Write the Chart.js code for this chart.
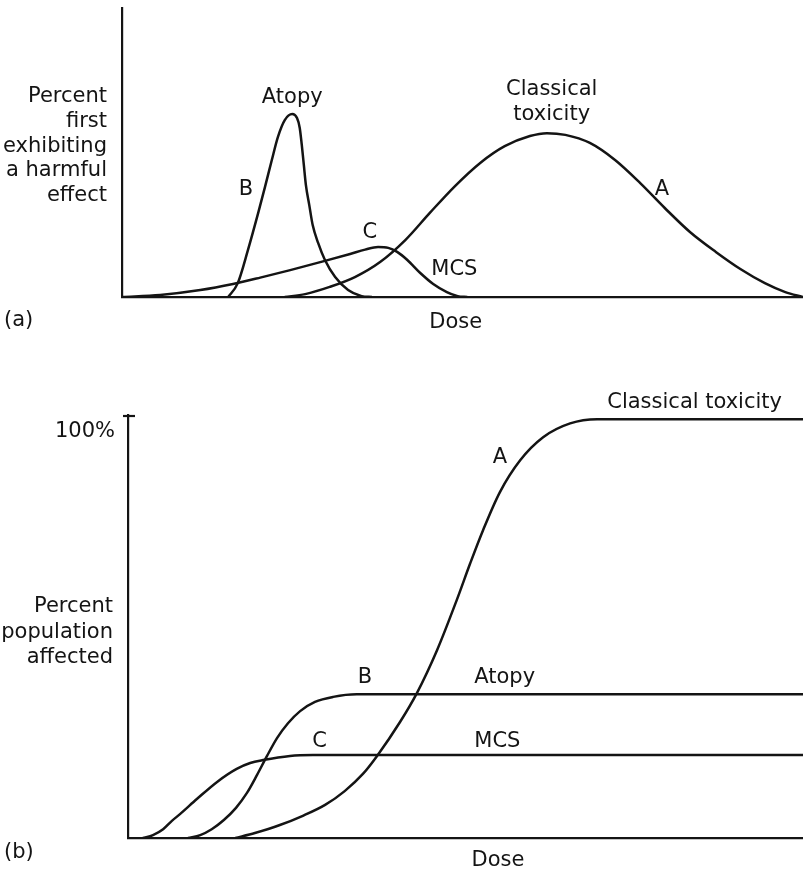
<!DOCTYPE html>
<html>
<head>
<meta charset="utf-8">
<script src="https://cdn.jsdelivr.net/npm/chart.js@4.4.1/dist/chart.umd.min.js"></script>
<style>
  html, body { margin: 0; padding: 0; background: #fff; }
  canvas { position: absolute; left: 0; }
  #firstEffect { top: 0; }
  #affected { top: 340px; }
</style>
</head>
<body>
<canvas id="firstEffect" width="803" height="340"></canvas>
<canvas id="affected" width="803" height="532"></canvas>
<script>
// (a) percent first exhibiting a harmful effect, by dose
const classicalDose  = [23.9, 26.9, 30.5, 34.2, 37.9, 41.6, 45.2, 48.9, 52.6, 56.2, 59.9, 62.4, 65.1, 68.7, 72.4, 76.1, 79.7, 83.4, 87.2, 90.8, 94.4, 97.4, 100];
const classicalFirst = [0, 1.0, 3.5, 6.9, 12.1, 19.7, 29.1, 38.4, 46.4, 52.2, 55.7, 56.7, 56.1, 53.3, 47.4, 39.4, 30.8, 22.5, 15.6, 9.7, 4.8, 1.7, 0];
const atopyDose  = [15.6, 17.0, 18.5, 20.0, 21.0, 22.0, 22.9, 23.9, 25.0, 25.7, 26.1, 26.4, 26.7, 27.0, 27.5, 28.0, 28.8, 29.8, 31.3, 33.2, 35.2, 36.7];
const atopyFirst = [0, 4.8, 16.3, 29.1, 38.1, 47.4, 55.4, 61.2, 63.3, 61.9, 58.5, 52.6, 45.7, 38.8, 31.8, 24.9, 18.7, 12.8, 6.9, 2.4, 0.3, 0];
const mcsDose  = [0, 5.6, 11.5, 16.3, 20.3, 24.7, 29.8, 33.5, 35.7, 37.6, 39.1, 40.4, 41.9, 43.8, 45.7, 47.7, 49.3, 50.7];
const mcsFirst = [0, 0.7, 2.4, 4.5, 6.7, 9.3, 12.5, 14.9, 16.4, 17.3, 17.0, 15.6, 12.8, 8.3, 4.5, 1.7, 0.3, 0];

// (b) cumulative percent of the population affected
const classicalCumDose = [15.9, 18.8, 22.5, 25.9, 29.2, 32.1, 34.8, 36.9, 40.3, 42.8, 45.8, 48.7, 50.7, 52.6, 55.1, 58.1, 61.5, 65.5, 69.5, 100];
const classicalCum     = [0, 1.2, 3.1, 5.3, 7.9, 11.2, 15.3, 19.6, 27.7, 34.6, 44.9, 56.8, 65.6, 73.5, 82.6, 90.2, 95.7, 99.0, 100, 100];
const atopyCumDose = [8.9, 10.7, 12.4, 14.2, 16.0, 17.6, 19.1, 20.6, 22.1, 23.7, 25.5, 27.7, 30.4, 33.9, 100];
const atopyCum     = [0, 0.7, 2.1, 4.3, 7.2, 10.7, 15.0, 19.6, 23.9, 27.4, 30.3, 32.5, 33.7, 34.3, 34.3];
const mcsCumDose = [2.2, 3.7, 5.2, 6.5, 7.7, 10.2, 13.2, 16.1, 18.1, 20.0, 24.0, 27.4, 100];
const mcsCum     = [0, 0.7, 2.1, 4.1, 5.7, 9.3, 13.4, 16.5, 17.9, 18.6, 19.6, 19.8, 19.8];

const INK = "#141414";
const FONT = '21px "DejaVu Sans"';

function curve(xs, ys) {
    return {
        data: xs.map((x, i) => ({ x: x, y: ys[i] })),
        borderColor: INK,
        borderWidth: 2.5,
        pointRadius: 0,
        cubicInterpolationMode: "monotone",
        fill: false
    };
}

function axis(max) {
    return {
        type: "linear",
        min: 0,
        max: max,
        ticks: { display: false },
        grid: { display: false, drawTicks: false },
        border: { display: true, color: INK, width: 2.2 }
    };
}

// text drawn on top: curve labels sit at dose/percent values, the rest hangs off the axes
function panelText(opts) {
    return {
        id: "panelText",
        afterDraw(chart) {
            const { ctx, chartArea: area, scales } = chart;
            ctx.save();
            ctx.font = FONT;
            ctx.fillStyle = INK;
            ctx.textBaseline = "alphabetic";

            opts.labels.forEach(l => {
                ctx.textAlign = l.align || "center";
                ctx.fillText(l.text, scales.x.getPixelForValue(l.x), scales.y.getPixelForValue(l.y));
            });

            ctx.textAlign = "right";
            opts.yTitle.forEach((line, i) => {
                ctx.fillText(line, area.left - 15, area.top + opts.yTitleTop + i * opts.lineHeight);
            });

            ctx.textAlign = "center";
            ctx.fillText("Dose", scales.x.getPixelForValue(opts.doseAt), area.bottom + opts.doseGap);

            ctx.textAlign = "left";
            ctx.fillText(opts.tag, 4, area.bottom + opts.tagGap);

            if (opts.topTick) {
                const y100 = scales.y.getPixelForValue(100);
                ctx.textAlign = "right";
                ctx.fillText("100%", area.left - 13, y100 + 18);
                ctx.strokeStyle = INK;
                ctx.lineWidth = 2.2;
                ctx.beginPath();
                ctx.moveTo(area.left - 5, area.top + 1);
                ctx.lineTo(area.left + 7, area.top + 1);
                ctx.stroke();
            }
            ctx.restore();
        }
    };
}

function makeChart(id, datasets, yMax, padding, text) {
    return new Chart(document.getElementById(id), {
        type: "line",
        data: { datasets: datasets },
        options: {
            responsive: false,
            animation: false,
            events: [],
            layout: { padding: padding },
            plugins: { legend: { display: false }, tooltip: { enabled: false } },
            scales: { x: axis(100), y: axis(yMax) }
        },
        plugins: [panelText(text)]
    });
}

makeChart("firstEffect", [
    curve(classicalDose, classicalFirst),
    curve(atopyDose, atopyFirst),
    curve(mcsDose, mcsFirst)
], 100, { left: 122, right: 0, top: 8, bottom: 43 }, {
    labels: [
        { text: "Atopy", x: 25.0, y: 67.1 },
        { text: "Classical", x: 63.1, y: 69.9 },
        { text: "toxicity", x: 63.1, y: 61.2 },
        { text: "A", x: 79.3, y: 35.3 },
        { text: "B", x: 18.2, y: 35.3 },
        { text: "C", x: 36.4, y: 20.4 },
        { text: "MCS", x: 48.8, y: 7.6 }
    ],
    yTitle: ["Percent", "first", "exhibiting", "a harmful", "effect"],
    yTitleTop: 94,
    lineHeight: 24.8,
    doseAt: 49,
    doseGap: 31,
    tag: "(a)",
    tagGap: 29,
    topTick: false
});

makeChart("affected", [
    curve(classicalCumDose, classicalCum),
    curve(atopyCumDose, atopyCum),
    curve(mcsCumDose, mcsCum)
], 101, { left: 128, right: 0, top: 75, bottom: 34 }, {
    labels: [
        { text: "Classical toxicity", x: 71.0, y: 102.6, align: "left" },
        { text: "Atopy", x: 51.3, y: 37.0, align: "left" },
        { text: "MCS", x: 51.3, y: 21.7, align: "left" },
        { text: "A", x: 55.1, y: 89.5 },
        { text: "B", x: 35.1, y: 37.0 },
        { text: "C", x: 28.4, y: 21.7 }
    ],
    yTitle: ["Percent", "population", "affected"],
    yTitleTop: 197,
    lineHeight: 25.5,
    doseAt: 54.8,
    doseGap: 28,
    tag: "(b)",
    tagGap: 20,
    topTick: true
});
</script>
</body>
</html>
